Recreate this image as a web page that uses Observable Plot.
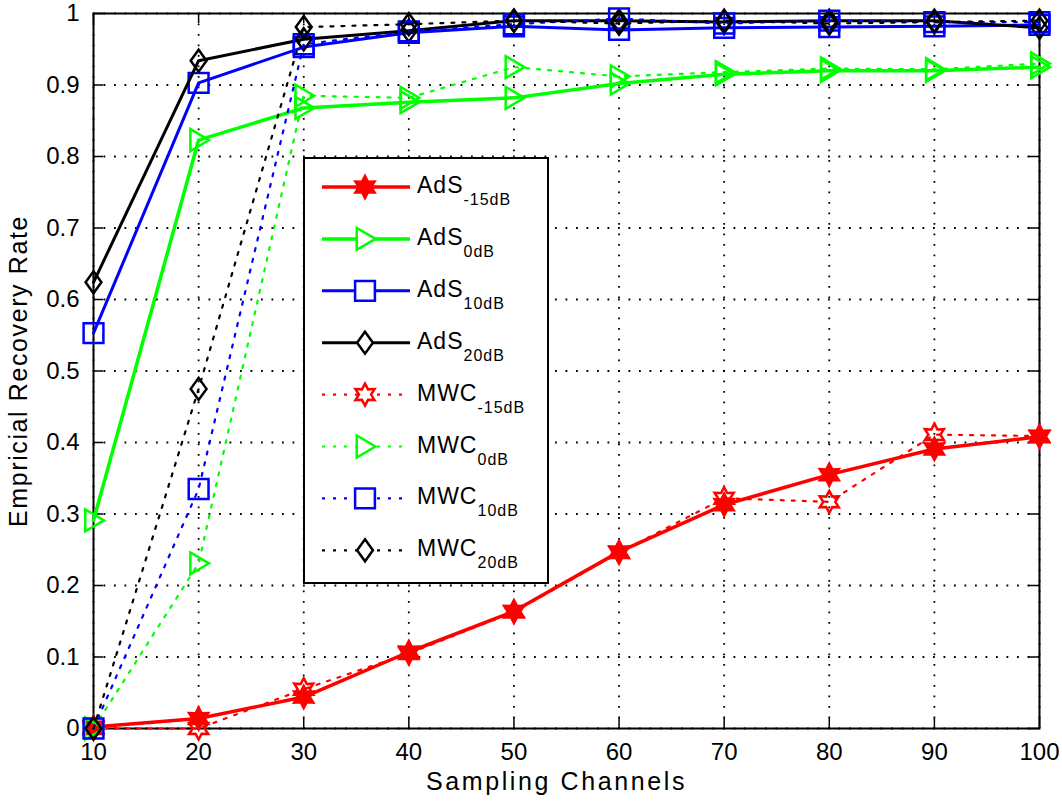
<!DOCTYPE html>
<html><head><meta charset="utf-8">
<script src="https://cdn.jsdelivr.net/npm/d3@7"></script>
<script src="https://cdn.jsdelivr.net/npm/@observablehq/plot@0.6"></script>
<style>
body{margin:0;background:#fff}
#chart{position:relative;width:1062px;height:808px}
</style>
</head><body><div id="chart"></div>
<script>
// ---- data ----
const channels = [10, 20, 30, 40, 50, 60, 70, 80, 90, 100];
const yTicks = [0, 0.1, 0.2, 0.3, 0.4, 0.5, 0.6, 0.7, 0.8, 0.9, 1];
const adsM15 = [0.002, 0.014, 0.044, 0.107, 0.164, 0.247, 0.313, 0.355, 0.391, 0.408];
const ads0   = [0.291, 0.823, 0.868, 0.876, 0.882, 0.902, 0.915, 0.920, 0.920, 0.925];
const ads10  = [0.553, 0.903, 0.953, 0.973, 0.982, 0.977, 0.980, 0.981, 0.982, 0.984];
const ads20  = [0.624, 0.934, 0.964, 0.976, 0.990, 0.990, 0.988, 0.990, 0.990, 0.980];
const mwcM15 = [0.000, 0.000, 0.055, 0.105, 0.163, 0.246, 0.322, 0.317, 0.411, 0.409];
const mwc0   = [0.000, 0.231, 0.885, 0.882, 0.925, 0.912, 0.918, 0.923, 0.922, 0.930];
const mwc10  = [0.000, 0.335, 0.957, 0.975, 0.985, 0.993, 0.986, 0.990, 0.988, 0.988];
const mwc20  = [0.000, 0.475, 0.981, 0.985, 0.990, 0.986, 0.990, 0.986, 0.988, 0.990];
const seriesNames = ["AdS", "AdS", "AdS", "AdS", "MWC", "MWC", "MWC", "MWC"];
const seriesSubs  = ["-15dB", "0dB", "10dB", "20dB", "-15dB", "0dB", "10dB", "20dB"];
const seriesValues = [adsM15, ads0, ads10, ads20, mwcM15, mwc0, mwc10, mwc20];
const xLabel = "Sampling Channels";
const yLabel = "Empricial Recovery Rate";

// ---- styles ----
const colors = ["#ff0000", "#00ff00", "#0000ff", "#000000", "#ff0000", "#00ff00", "#0000ff", "#000000"];
const solid = [true, true, true, true, false, false, false, false];

const hexagram = {draw(ctx, size) {
  const r = Math.sqrt(size / Math.PI), ri = r * 0.55;
  for (let i = 0; i < 12; i++) {
    const a = -Math.PI / 2 + i * Math.PI / 6, rr = i % 2 ? ri : r;
    const px = rr * Math.cos(a), py = rr * Math.sin(a);
    i ? ctx.lineTo(px, py) : ctx.moveTo(px, py);
  }
  ctx.closePath();
}};
const triRight = {draw(ctx, size) {
  const r = Math.sqrt(size / Math.PI);
  ctx.moveTo(r * 0.95, 0); ctx.lineTo(-r * 0.75, -r); ctx.lineTo(-r * 0.75, r); ctx.closePath();
}};
const squareSym = {draw(ctx, size) {
  const r = Math.sqrt(size / Math.PI) * 0.9;
  ctx.moveTo(-r, -r); ctx.lineTo(r, -r); ctx.lineTo(r, r); ctx.lineTo(-r, r); ctx.closePath();
}};
const diamondSym = {draw(ctx, size) {
  const r = Math.sqrt(size / Math.PI);
  ctx.moveTo(0, -r); ctx.lineTo(r * 0.72, 0); ctx.lineTo(0, r); ctx.lineTo(-r * 0.72, 0); ctx.closePath();
}};
const symbols = [hexagram, triRight, squareSym, diamondSym, hexagram, triRight, squareSym, diamondSym];
const fills = ["#ff0000", "none", "none", "none", "none", "none", "none", "none"];
const lineW = [3.5, 3.5, 3, 3, 2.2, 2.2, 2.2, 2.2];
const dash = "3,8";
const R = 11;

const font = "'Liberation Sans', Arial, Helvetica, sans-serif";
const frameW = 1062 - 93 - 23, frameH = 808 - 13 - 80;

const seriesMarks = seriesValues.flatMap((vals, i) => {
  const rows = channels.map((c, j) => ({x: c, y: vals[j]}));
  return [
    Plot.line(rows, {x: "x", y: "y", stroke: colors[i], strokeWidth: lineW[i],
      strokeDasharray: solid[i] ? null : dash, strokeLinejoin: "round"}),
    Plot.dot(rows, {x: "x", y: "y", symbol: symbols[i], r: R, stroke: colors[i],
      fill: fills[i], strokeWidth: 2.5})
  ];
});

const plot = Plot.plot({
  width: 1062, height: 808,
  marginLeft: 93, marginRight: 23, marginTop: 13, marginBottom: 80,
  style: {fontFamily: font, color: "#000", background: "#fff", overflow: "visible"},
  x: {domain: [10, 100]},
  y: {domain: [0, 1]},
  marks: [
    Plot.gridX(channels, {stroke: "#000", strokeOpacity: 1, strokeWidth: 1.8, strokeDasharray: "1.8,8.7"}),
    Plot.gridY(yTicks, {stroke: "#000", strokeOpacity: 1, strokeWidth: 1.8, strokeDasharray: "1.8,8.7"}),
    Plot.ruleX(channels, {stroke: "#000", strokeWidth: 1.5, insetTop: frameH - 10}),
    Plot.ruleX(channels, {stroke: "#000", strokeWidth: 1.5, insetBottom: frameH - 10}),
    Plot.ruleY(yTicks, {stroke: "#000", strokeWidth: 1.5, insetRight: frameW - 10}),
    Plot.ruleY(yTicks, {stroke: "#000", strokeWidth: 1.5, insetLeft: frameW - 10}),
    Plot.frame({stroke: "#000", strokeWidth: 2}),
    Plot.axisX(channels, {tickSize: 0, tickPadding: 14, fontSize: 24, label: null, tickFormat: d => String(d)}),
    Plot.axisY(yTicks, {tickSize: 0, tickPadding: 14, fontSize: 24, label: null, tickFormat: d => String(d)}),
    Plot.text([xLabel], {text: d => d, frameAnchor: "bottom", textAnchor: "middle", dy: 61, dx: -10, fontSize: 25}),
    Plot.text([yLabel], {text: d => d, frameAnchor: "left", textAnchor: "middle", rotate: -90, dx: -75, fontSize: 25}),
    ...seriesMarks
  ]
});
document.getElementById("chart").appendChild(plot);

// letter spacing to mimic the wide original lettering
const svg = d3.select(plot);
svg.selectAll("text").filter(function() { return this.textContent === xLabel; }).attr("letter-spacing", 2.6);
svg.selectAll("text").filter(function() { return this.textContent === yLabel; }).attr("letter-spacing", 1.6);

// ---- legend ----
const lg = svg.append("g").attr("transform", "translate(304,158)")
  .attr("font-family", font).attr("text-anchor", "start");
lg.append("rect").attr("width", 244).attr("height", 425).attr("fill", "#fff")
  .attr("stroke", "#000").attr("stroke-width", 2);
seriesNames.forEach((name, i) => {
  const y = 29 + i * 51.9;
  lg.append("line").attr("x1", 18).attr("x2", 106).attr("y1", y).attr("y2", y)
    .attr("stroke", colors[i]).attr("stroke-width", lineW[i])
    .attr("stroke-dasharray", solid[i] ? null : dash);
  lg.append("path").attr("transform", `translate(61,${y})`)
    .attr("d", d3.symbol().type(symbols[i]).size(Math.PI * R * R)())
    .attr("fill", fills[i] === "none" ? "#fff" : fills[i]).attr("stroke", colors[i]).attr("stroke-width", 2.5);
  const t = lg.append("text").attr("x", 113).attr("y", y + 6).attr("font-size", 23).attr("fill", "#000")
    .attr("text-anchor", "start").attr("letter-spacing", 1);
  t.append("tspan").text(name);
  t.append("tspan").attr("dy", 12).attr("font-size", 16).text(seriesSubs[i]);
});
</script>
</body></html>
